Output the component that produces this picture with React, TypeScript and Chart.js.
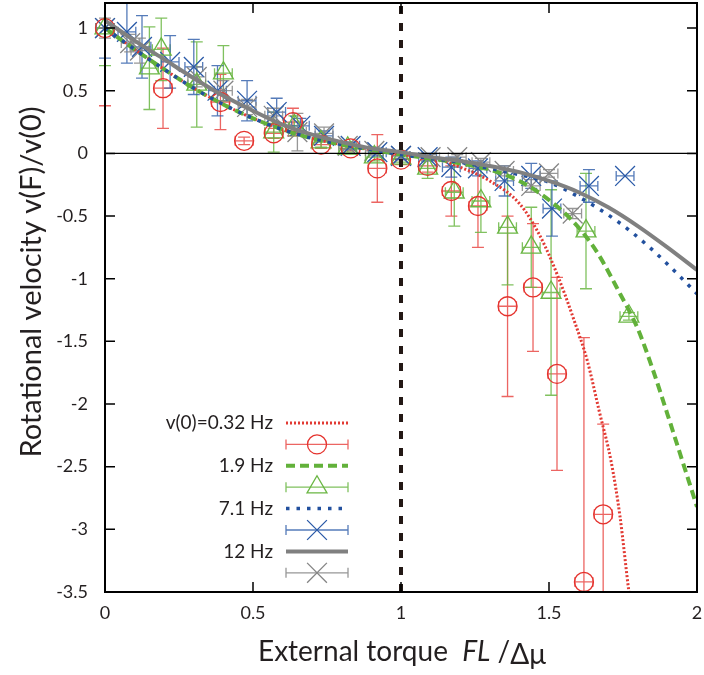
import React, { useEffect, useRef } from "react";
import { Chart, registerables } from "chart.js";

Chart.register(...registerables);

const FONT = "Lato, 'Open Sans', sans-serif";
const TEXT = "#231f20";

// ---- axes ----
const xTicks = [0, 0.5, 1, 1.5, 2];
const yTicks = [-3.5, -3, -2.5, -2, -1.5, -1, -0.5, 0, 0.5, 1];
const xRange = [0, 2];
const yRange = [-3.5, 1.2];
const thresholdX = 1;

// ---- legend labels ----
const legendLabels = ["v(0)=0.32 Hz", "1.9 Hz", "7.1 Hz", "12 Hz"];

// ---- measured points (x, y, y-error) ----
const xErr = 0.03;

const redX = [0, 0.196, 0.39, 0.47, 0.57, 0.635, 0.73, 0.83, 0.92, 1.0, 1.09, 1.17, 1.26, 1.36, 1.446, 1.527, 1.618, 1.683];
const redY = [1.0, 0.52, 0.41, 0.1, 0.16, 0.25, 0.07, 0.04, -0.12, -0.05, -0.1, -0.3, -0.42, -1.22, -1.07, -1.76, -3.42, -2.88];
const redErr = [0.62, 0.32, 0.22, 0.03, 0.04, 0.11, 0.03, 0.02, 0.27, 0.04, 0.05, 0.2, 0.33, 0.72, 0.51, 0.77, 1.95, 0.72];

const greenX = [0, 0.15, 0.19, 0.31, 0.4, 0.57, 0.64, 0.73, 0.82, 0.91, 1.0, 1.09, 1.18, 1.27, 1.36, 1.44, 1.507, 1.625, 1.77];
const greenY = [1.0, 0.68, 0.83, 0.55, 0.64, 0.17, 0.22, 0.09, 0.04, -0.03, -0.04, -0.12, -0.31, -0.38, -0.59, -0.75, -1.11, -0.62, -1.3];
const greenErr = [0.3, 0.33, 0.25, 0.34, 0.22, 0.16, 0.08, 0.04, 0.03, 0.03, 0.03, 0.08, 0.27, 0.25, 0.46, 0.32, 0.82, 0.46, 0.03];

const blueX = [0, 0.074, 0.125, 0.22, 0.3, 0.38, 0.48, 0.58, 0.66, 0.74, 0.83, 0.92, 1.0, 1.09, 1.17, 1.26, 1.35, 1.44, 1.51, 1.635, 1.757];
const blueY = [1.0, 0.97, 0.85, 0.73, 0.69, 0.5, 0.42, 0.33, 0.22, 0.14, 0.06, 0.01, -0.02, -0.03, -0.11, -0.12, -0.22, -0.18, -0.44, -0.26, -0.18];
const blueErr = [0.24, 0.25, 0.25, 0.21, 0.22, 0.2, 0.16, 0.11, 0.06, 0.04, 0.03, 0.03, 0.03, 0.03, 0.08, 0.06, 0.12, 0.1, 0.22, 0.13, 0.0];

const grayX = [0, 0.085, 0.118, 0.31, 0.4, 0.48, 0.57, 0.65, 0.74, 0.82, 0.91, 1.0, 1.1, 1.19, 1.27, 1.35, 1.44, 1.5, 1.58];
const grayY = [1.0, 0.88, 0.82, 0.61, 0.5, 0.37, 0.3, 0.17, 0.16, 0.06, 0.02, -0.02, -0.03, -0.03, -0.07, -0.14, -0.26, -0.16, -0.48];
const grayErr = [0.08, 0.07, 0.1, 0.08, 0.08, 0.06, 0.06, 0.15, 0.05, 0.03, 0.03, 0.02, 0.02, 0.02, 0.03, 0.04, 0.05, 0.03, 0.04];

// ---- model curves ----
const redCurveX = [0, 0.1, 0.2, 0.3, 0.4, 0.5, 0.6, 0.7, 0.8, 0.9, 1.0, 1.1, 1.2, 1.3, 1.4, 1.47, 1.53, 1.58, 1.63, 1.67, 1.71, 1.74, 1.77, 1.8];
const redCurveY = [1.0, 0.83, 0.67, 0.52, 0.39, 0.28, 0.19, 0.12, 0.07, 0.03, -0.01, -0.03, -0.11, -0.22, -0.4, -0.66, -0.98, -1.3, -1.66, -2.06, -2.46, -2.9, -3.5, -4.0];

const greenCurveX = [0, 0.1, 0.2, 0.3, 0.4, 0.5, 0.6, 0.7, 0.8, 0.9, 1.0, 1.1, 1.2, 1.3, 1.4, 1.47, 1.58, 1.66, 1.74, 1.8, 1.85, 1.9, 1.95, 2.0];
const greenCurveY = [1.0, 0.83, 0.67, 0.52, 0.39, 0.28, 0.19, 0.12, 0.07, 0.03, -0.01, -0.04, -0.08, -0.13, -0.22, -0.32, -0.54, -0.78, -1.12, -1.4, -1.72, -2.08, -2.45, -2.82];

const blueCurveX = [0, 0.1, 0.2, 0.3, 0.4, 0.5, 0.6, 0.7, 0.8, 0.9, 1.0, 1.1, 1.2, 1.3, 1.4, 1.5, 1.61, 1.73, 1.84, 1.95, 2.0];
const blueCurveY = [1.0, 0.83, 0.67, 0.52, 0.39, 0.28, 0.19, 0.12, 0.07, 0.03, -0.01, -0.04, -0.07, -0.12, -0.17, -0.23, -0.36, -0.54, -0.75, -1.0, -1.12];

const grayCurveX = [0, 0.1, 0.2, 0.3, 0.4, 0.5, 0.6, 0.7, 0.8, 0.9, 1.0, 1.1, 1.2, 1.3, 1.4, 1.5, 1.6, 1.7, 1.8, 1.9, 2.0];
const grayCurveY = [1.06, 0.9, 0.75, 0.6, 0.46, 0.34, 0.23, 0.15, 0.09, 0.04, 0.01, -0.03, -0.06, -0.1, -0.15, -0.22, -0.31, -0.43, -0.58, -0.75, -0.93];

const zip = (xs: number[], ys: number[]) => xs.map((x, i) => ({ x, y: ys[i] }));

const COLORS = {
  red: "#e5322d",
  redBar: "rgba(229,50,45,0.75)",
  green: "#6ab643",
  greenBar: "rgba(106,182,67,0.85)",
  blue: "#2a5aa8",
  blueBar: "rgba(42,90,168,0.8)",
  gray: "#858585",
  grayBar: "rgba(133,133,133,0.85)",
  redLine: "#e23a33",
  greenLine: "#62b13a",
  blueLine: "#22509e",
  grayLine: "#808080",
};

function drawMarker(ctx: CanvasRenderingContext2D, style: string, x: number, y: number, r: number) {
  ctx.beginPath();
  if (style === "circle") {
    ctx.arc(x, y, r, 0, Math.PI * 2);
  } else if (style === "triangle") {
    let a = 0;
    ctx.moveTo(x + Math.sin(a) * r, y - Math.cos(a) * r);
    a += (2 * Math.PI) / 3;
    ctx.lineTo(x + Math.sin(a) * r, y - Math.cos(a) * r);
    a += (2 * Math.PI) / 3;
    ctx.lineTo(x + Math.sin(a) * r, y - Math.cos(a) * r);
    ctx.closePath();
  } else {
    const o = Math.cos(Math.PI / 4) * r;
    ctx.moveTo(x - o, y - o);
    ctx.lineTo(x + o, y + o);
    ctx.moveTo(x - o, y + o);
    ctx.lineTo(x + o, y - o);
  }
  ctx.stroke();
}

const errorBarPlugin = {
  id: "errorBars",
  beforeDatasetsDraw(chart: any) {
    const { ctx, chartArea, scales } = chart;
    const xs = scales.x;
    const ys = scales.y;
    ctx.save();
    ctx.beginPath();
    ctx.rect(0, chartArea.top, chart.width, chartArea.bottom - chartArea.top);
    ctx.clip();
    chart.data.datasets.forEach((ds: any) => {
      if (!ds.errY) return;
      ctx.strokeStyle = ds.barColor;
      ctx.lineWidth = 1.3;
      ds.data.forEach((p: any, i: number) => {
        const px = xs.getPixelForValue(p.x);
        const py = ys.getPixelForValue(p.y);
        const e = ds.errY[i];
        const top = ys.getPixelForValue(p.y + e);
        const bot = ys.getPixelForValue(p.y - e);
        const l = xs.getPixelForValue(p.x - xErr);
        const r = xs.getPixelForValue(p.x + xErr);
        ctx.beginPath();
        ctx.moveTo(px, top);
        ctx.lineTo(px, bot);
        ctx.moveTo(px - 6, top);
        ctx.lineTo(px + 6, top);
        ctx.moveTo(px - 6, bot);
        ctx.lineTo(px + 6, bot);
        ctx.moveTo(l, py);
        ctx.lineTo(r, py);
        ctx.moveTo(l, py - 5);
        ctx.lineTo(l, py + 5);
        ctx.moveTo(r, py - 5);
        ctx.lineTo(r, py + 5);
        ctx.stroke();
      });
    });
    ctx.restore();
  },
};

function drawParts(ctx: CanvasRenderingContext2D, parts: any[], size: number, startX: number, y: number) {
  let x = startX;
  parts.forEach((p) => {
    ctx.font = `${p.i ? "italic " : ""}${size}px ${FONT}`;
    ctx.fillText(p.t, x, y + (p.dy || 0));
    x += ctx.measureText(p.t).width;
  });
}
function partsWidth(ctx: CanvasRenderingContext2D, parts: any[], size: number) {
  let w = 0;
  parts.forEach((p) => {
    ctx.font = `${p.i ? "italic " : ""}${size}px ${FONT}`;
    w += ctx.measureText(p.t).width;
  });
  return w;
}

const decorPlugin = {
  id: "decor",
  afterDraw(chart: any) {
    const { ctx, chartArea, scales } = chart;
    const xs = scales.x;
    const ys = scales.y;
    const { left, right, top, bottom } = chartArea;
    ctx.save();
    // frame
    ctx.strokeStyle = "#000";
    ctx.lineWidth = 2;
    ctx.strokeRect(left, top, right - left, bottom - top);
    // inward ticks
    ctx.lineWidth = 1.5;
    ctx.beginPath();
    xTicks.forEach((v) => {
      const px = xs.getPixelForValue(v);
      ctx.moveTo(px, bottom);
      ctx.lineTo(px, bottom - 10);
      ctx.moveTo(px, top);
      ctx.lineTo(px, top + 10);
    });
    yTicks.forEach((v) => {
      const py = ys.getPixelForValue(v);
      ctx.moveTo(left, py);
      ctx.lineTo(left + 10, py);
      ctx.moveTo(right, py);
      ctx.lineTo(right - 10, py);
    });
    ctx.stroke();

    // legend
    const curveSets = chart.data.datasets.filter((d: any) => d.legendCurve !== undefined);
    const markSets = chart.data.datasets.filter((d: any) => d.errY);
    const y0 = 423;
    const step = 21.4;
    const tx = 273;
    const sl = 286;
    const sr = 348;
    const sc = 317;
    ctx.textBaseline = "middle";
    legendLabels.forEach((lab, i) => {
      const ly = y0 + 2 * i * step;
      const my = y0 + (2 * i + 1) * step;
      ctx.fillStyle = TEXT;
      ctx.font = `19px ${FONT}`;
      ctx.textAlign = "right";
      ctx.fillText(lab, tx, ly);
      const c = curveSets.find((d: any) => d.legendCurve === i);
      if (c) {
        ctx.save();
        ctx.strokeStyle = c.borderColor;
        ctx.lineWidth = c.borderWidth;
        ctx.setLineDash(c.borderDash || []);
        ctx.beginPath();
        ctx.moveTo(sl, ly);
        ctx.lineTo(sr, ly);
        ctx.stroke();
        ctx.restore();
      }
      const m = markSets[i];
      if (m) {
        ctx.strokeStyle = m.barColor;
        ctx.lineWidth = 1.3;
        ctx.beginPath();
        ctx.moveTo(sl, my);
        ctx.lineTo(sr, my);
        ctx.moveTo(sl, my - 5);
        ctx.lineTo(sl, my + 5);
        ctx.moveTo(sr, my - 5);
        ctx.lineTo(sr, my + 5);
        ctx.stroke();
        ctx.strokeStyle = m.borderColor;
        ctx.lineWidth = m.borderWidth;
        drawMarker(ctx, m.pointStyle, sc, my, m.pointRadius);
      }
    });

    // axis titles
    ctx.fillStyle = TEXT;
    ctx.textAlign = "left";
    ctx.textBaseline = "middle";
    const xParts = [
      { t: "External torque  " },
      { t: "FL", i: true },
      { t: " /" },
      { t: "Δμ", dy: 3 },
    ];
    drawParts(ctx, xParts, 28, 258, 652);

    const yParts = [{ t: "Rotational velocity v(F)/v(0)" }];
    ctx.save();
    ctx.translate(32, 282);
    ctx.rotate(-Math.PI / 2);
    const w = partsWidth(ctx, yParts, 29);
    drawParts(ctx, yParts, 29, -w / 2, 0);
    ctx.restore();

    ctx.restore();
  },
};

export default function App() {
  const ref = useRef<HTMLCanvasElement | null>(null);

  useEffect(() => {
    if (!ref.current) return;
    const markerBase = {
      type: "scatter",
      showLine: false,
      clip: false,
      backgroundColor: "rgba(0,0,0,0)",
      borderWidth: 1.3,
      pointHoverRadius: 0,
    };
    const curveBase = {
      type: "line",
      pointRadius: 0,
      pointHoverRadius: 0,
      fill: false,
      cubicInterpolationMode: "monotone",
      borderCapStyle: "butt",
    };
    const chart = new Chart(ref.current, {
      type: "scatter",
      data: {
        datasets: [
          {
            type: "line",
            data: [
              { x: thresholdX, y: yRange[0] },
              { x: thresholdX, y: yRange[1] },
            ],
            borderColor: "#231815",
            borderWidth: 4,
            borderDash: [8, 9],
            pointRadius: 0,
            order: 0,
          },
          {
            ...curveBase,
            data: zip(grayCurveX, grayCurveY),
            borderColor: COLORS.grayLine,
            borderWidth: 4,
            legendCurve: 3,
            order: 1,
          },
          {
            ...curveBase,
            data: zip(blueCurveX, blueCurveY),
            borderColor: COLORS.blueLine,
            borderWidth: 3.5,
            borderDash: [3.5, 7],
            legendCurve: 2,
            order: 2,
          },
          {
            ...curveBase,
            data: zip(greenCurveX, greenCurveY),
            borderColor: COLORS.greenLine,
            borderWidth: 4,
            borderDash: [9, 5],
            legendCurve: 1,
            order: 3,
          },
          {
            ...curveBase,
            data: zip(redCurveX, redCurveY),
            borderColor: COLORS.redLine,
            borderWidth: 3,
            borderDash: [2, 2],
            legendCurve: 0,
            order: 4,
          },
          {
            type: "line",
            data: [
              { x: xRange[0], y: 0 },
              { x: xRange[1], y: 0 },
            ],
            borderColor: "#000",
            borderWidth: 1.2,
            pointRadius: 0,
            order: 5,
          },
          {
            ...markerBase,
            data: zip(redX, redY),
            errY: redErr,
            barColor: COLORS.redBar,
            borderColor: COLORS.red,
            pointStyle: "circle",
            pointRadius: 9.5,
            order: 6,
          },
          {
            ...markerBase,
            data: zip(greenX, greenY),
            errY: greenErr,
            barColor: COLORS.greenBar,
            borderColor: COLORS.green,
            pointStyle: "triangle",
            pointRadius: 11.5,
            order: 7,
          },
          {
            ...markerBase,
            data: zip(blueX, blueY),
            errY: blueErr,
            barColor: COLORS.blueBar,
            borderColor: COLORS.blue,
            pointStyle: "crossRot",
            pointRadius: 14,
            order: 8,
          },
          {
            ...markerBase,
            data: zip(grayX, grayY),
            errY: grayErr,
            barColor: COLORS.grayBar,
            borderColor: COLORS.gray,
            pointStyle: "crossRot",
            pointRadius: 14,
            order: 9,
          },
        ] as any,
      },
      options: {
        responsive: false,
        animation: false,
        events: [],
        layout: { padding: { top: 3, right: 7, left: 0, bottom: 0 }, autoPadding: false },
        plugins: {
          legend: { display: false },
          tooltip: { enabled: false },
          title: { display: false },
        },
        scales: {
          x: {
            type: "linear",
            min: xRange[0],
            max: xRange[1],
            grid: { display: false, drawTicks: false },
            border: { display: false },
            afterBuildTicks: (s: any) => {
              s.ticks = xTicks.map((v) => ({ value: v }));
            },
            afterFit: (s: any) => {
              s.height = 83;
              s.paddingLeft = 0;
              s.paddingRight = 0;
              s.paddingTop = 0;
              s.paddingBottom = 0;
            },
            ticks: {
              padding: 10,
              color: TEXT,
              font: { family: FONT, size: 18 },
              maxRotation: 0,
              autoSkip: false,
              callback: (v: any) => String(v),
            },
          },
          y: {
            type: "linear",
            min: yRange[0],
            max: yRange[1],
            grid: { display: false, drawTicks: false },
            border: { display: false },
            afterBuildTicks: (s: any) => {
              s.ticks = yTicks.map((v) => ({ value: v }));
            },
            afterFit: (s: any) => {
              s.width = 105;
              s.paddingLeft = 0;
              s.paddingRight = 0;
              s.paddingTop = 0;
              s.paddingBottom = 0;
            },
            ticks: {
              padding: 17,
              color: TEXT,
              font: { family: FONT, size: 18 },
              autoSkip: false,
              callback: (v: any) => String(v),
            },
          },
        },
      } as any,
      plugins: [errorBarPlugin, decorPlugin],
    });
    return () => chart.destroy();
  }, []);

  return (
    <div style={{ position: "fixed", left: 0, top: 0, width: 704, height: 675, background: "#fff" }}>
      <canvas ref={ref} width={704} height={675} style={{ display: "block" }} />
    </div>
  );
}
